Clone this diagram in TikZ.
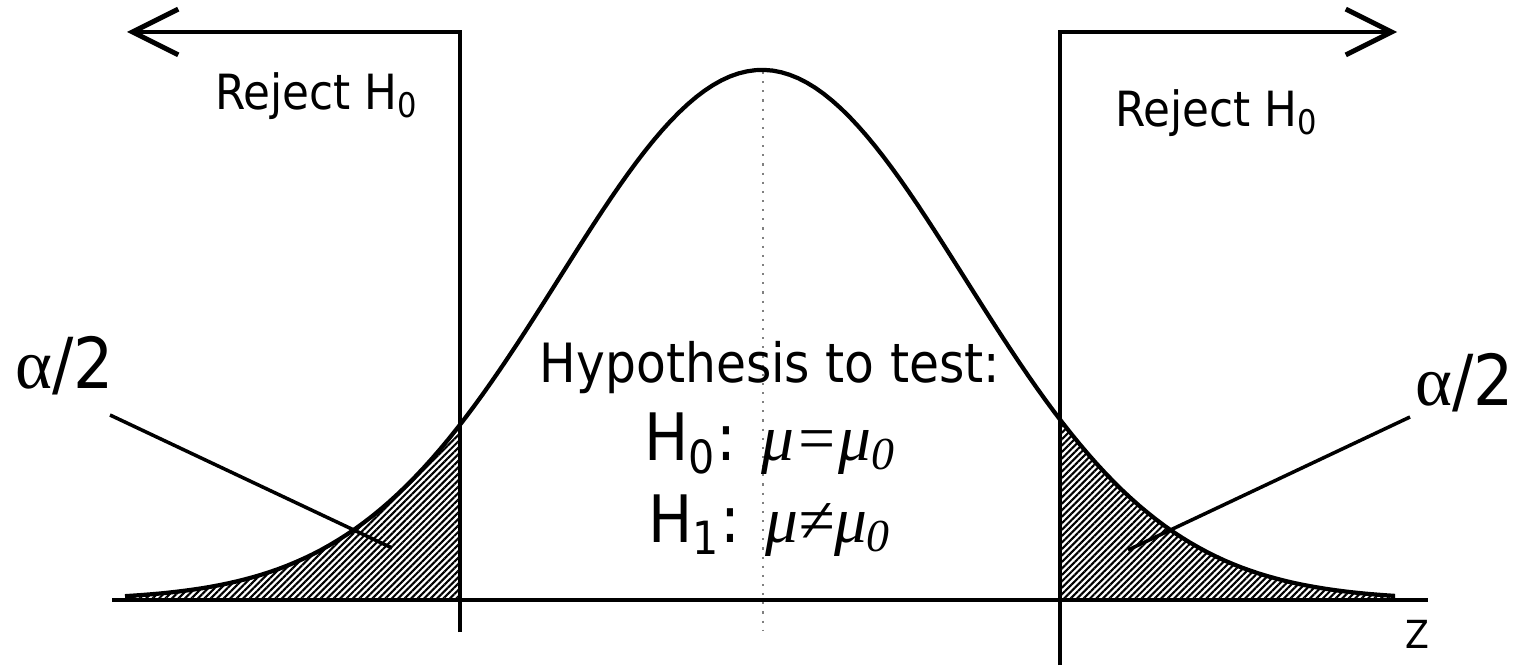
\documentclass[tikz,border=0pt]{standalone}
\usepackage{fontspec}
\setmainfont{DejaVu Sans Condensed}
\newfontfamily\symfont{Liberation Serif}
\usetikzlibrary{arrows.meta, patterns.meta}

\begin{document}
\begin{tikzpicture}[x=0.01cm, y=-0.01cm,
  txt/.style={anchor=base west, inner sep=0pt, font=\fontsize{13.8}{16}\selectfont},
  hyp/.style={anchor=base, inner sep=0pt},
  bound/.style={line width=1.4pt, line join=miter, -{Straight Barb[length=13pt, width=13pt]}},
  curve/.style={line width=1.2pt, line join=round},
  pointer/.style={line width=1pt},
  tail/.style={pattern={Lines[angle=45, distance=1.3pt, line width=0.6pt]}},
  declare function={dens(\t)=600-530*exp(-((\t-762)/203)^2/2);}
]
  \useasboundingbox (0,0) rectangle (1524,667);

  % shaded tails
  \fill[tail] (125,600) -- plot[domain=125:460, samples=60] (\x, {dens(\x)}) -- (460,600) -- cycle;
  \fill[tail] (1060,600) -- plot[domain=1060:1395, samples=60] (\x, {dens(\x)}) -- (1395,600) -- cycle;

  % mean line and axis
  \coordinate (top) at (763,72);
  \coordinate (mid) at (763,630);
  \draw[gray, dotted, line width=0.6pt] (top) -- (mid);
  \coordinate (ax0) at (112,600);
  \coordinate (ax1) at (1428,600);
  \draw[line width=1.4pt] (ax0) -- (ax1);

  % density
  \draw[curve] plot[domain=125:1395, samples=150] (\x, {dens(\x)});

  % critical values
  \coordinate (lbot) at (460,632);
  \coordinate (ltop) at (460,32);
  \coordinate (lend) at (127,32);
  \coordinate (rbot) at (1060,665);
  \coordinate (rtop) at (1060,32);
  \coordinate (rend) at (1397,32);
  \draw[bound] (lbot) -- (ltop) -- (lend);
  \draw[bound] (rbot) -- (rtop) -- (rend);

  % labels
  \node[txt] (rejL) at (215,110) {Reject H\textsubscript{0}};
  \node[txt] (rejR) at (1115,127) {Reject H\textsubscript{0}};
  \node[txt, font=\fontsize{20}{24}\selectfont] (alphaL) at (15,388) {{\symfont α}/2};
  \node[txt, font=\fontsize{20}{24}\selectfont] (alphaR) at (1415,405) {{\symfont α}/2};
  \node[txt, font=\fontsize{11}{13}\selectfont] (zlab) at (1405,648) {Z};

  \node[hyp, font=\fontsize{15.4}{18}\selectfont] (hyp) at (770,383) {Hypothesis to test:};
  \node[hyp, font=\fontsize{18.6}{22}\selectfont] (h0) at (770,460) {H\textsubscript{0}: {\symfont\itshape μ=μ\textsubscript{0}}};
  \node[hyp, font=\fontsize{18.6}{22}\selectfont] (h1) at (770,542) {H\textsubscript{1}: {\symfont\itshape μ≠μ\textsubscript{0}}};

  % pointers to tails
  \coordinate (pL0) at (110,415);
  \coordinate (pL1) at (392,548);
  \coordinate (pR0) at (1410,417);
  \coordinate (pR1) at (1128,550);
  \draw[pointer] (pL0) -- (pL1);
  \draw[pointer] (pR0) -- (pR1);
\end{tikzpicture}
\end{document}
